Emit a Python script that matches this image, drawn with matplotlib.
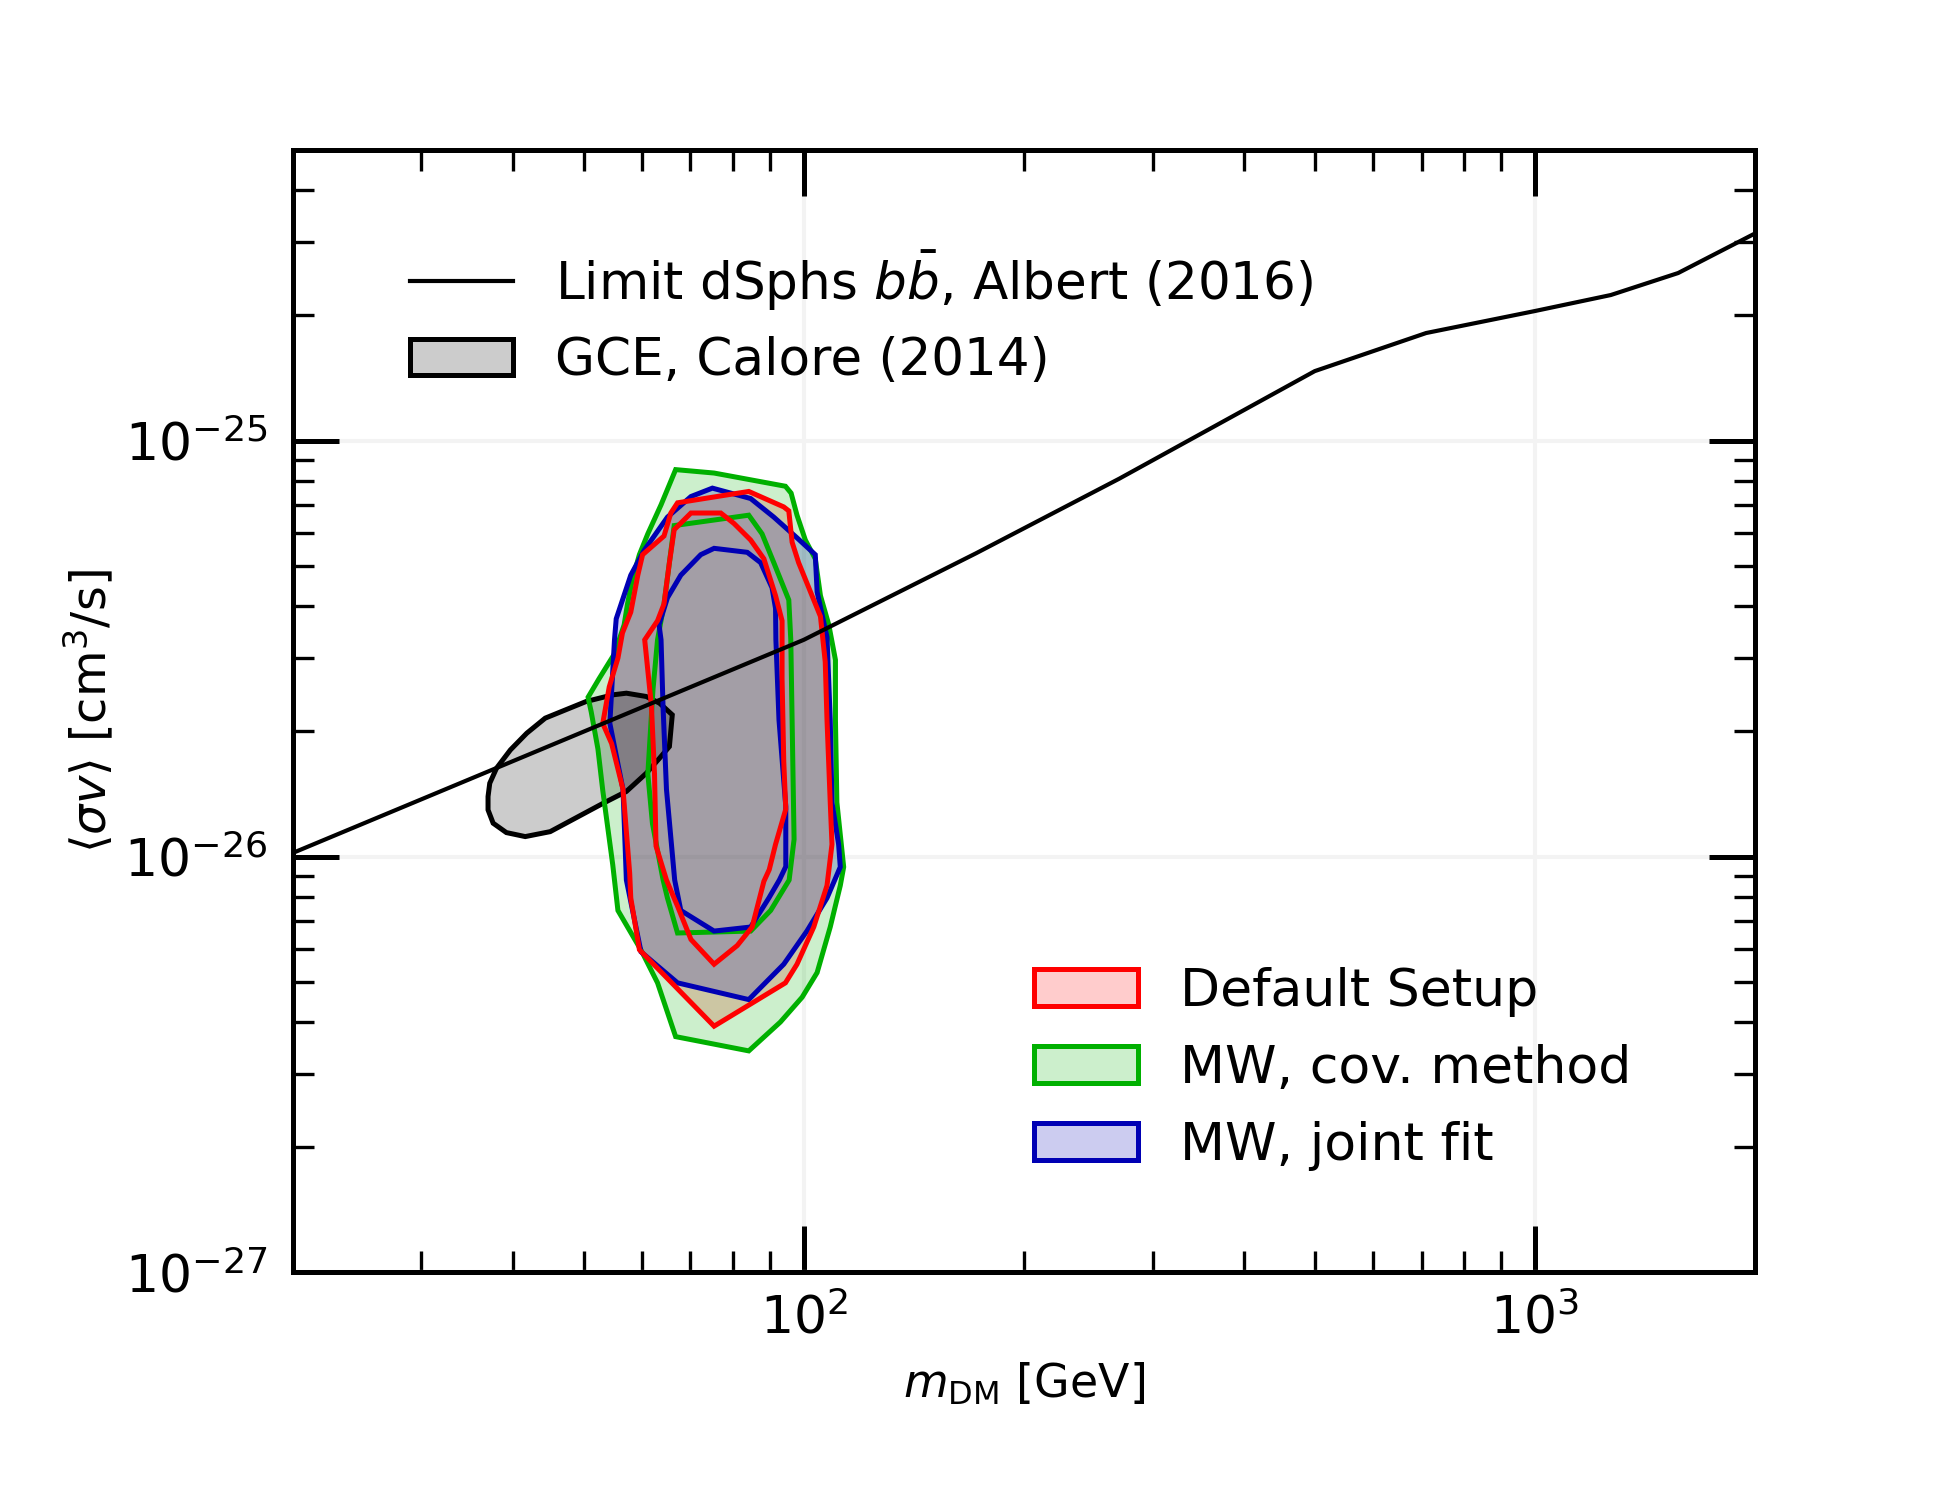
import numpy as np
import matplotlib
matplotlib.use("Agg")
import matplotlib.pyplot as plt
from matplotlib.patches import Polygon, Patch
from matplotlib.lines import Line2D
from matplotlib.ticker import NullFormatter

# ---------------- data ----------------
# dSphs limit (b bbar), Albert (2016)
limit_mass = [20, 100, 172, 270, 500, 710, 1000, 1270, 1570, 2000]
limit_sv = [1.02e-26, 3.32e-26, 5.36e-26, 8.1e-26, 1.47e-25, 1.815e-25,
            2.05e-25, 2.24e-25, 2.53e-25, 3.15e-25]

# GCE region, Calore (2014)   (sigma v in units of 1e-26 cm^3/s)
gce_mass = [37.0, 37.2, 38.0, 39.7, 41.8, 44.3, 50.4, 54.8, 57.2, 60.9, 63.5,
            66.1, 65.5, 63.5, 60.9, 57.2, 53.2, 45.0, 41.6, 39.2, 37.6, 37.0]
gce_sv = [1.394, 1.501, 1.631, 1.805, 1.980, 2.152, 2.360, 2.448, 2.471, 2.426,
          2.338, 2.192, 1.839, 1.724, 1.586, 1.434, 1.344, 1.148, 1.117, 1.142,
          1.203, 1.295]

# Default Setup (red)
default_outer_mass = [67.2, 84.1, 93.9, 95.4, 96.4, 98.4, 105.4, 107.0, 107.6,
                      108.7, 109.3, 107.6, 103.2, 97.9, 94.4, 75.4, 59.6, 58.0,
                      57.8, 56.6, 54.6, 53.1, 54.2, 55.7, 56.5, 58.0, 59.3,
                      60.2, 64.4, 65.8]
default_outer_sv = [7.09, 7.55, 6.93, 6.78, 5.70, 5.09, 3.78, 2.94, 2.13, 1.35,
                    1.07, 0.852, 0.677, 0.551, 0.497, 0.391, 0.597, 0.795,
                    0.912, 1.45, 1.87, 2.09, 2.56, 3.00, 3.45, 3.87, 4.75,
                    5.32, 5.90, 6.70]
default_inner_mass = [70.1, 77.0, 80.3, 84.6, 88.2, 91.5, 93.4, 93.4, 93.9,
                      94.5, 91.5, 89.7, 88.2, 85.0, 81.1, 75.4, 70.1, 67.2,
                      64.9, 62.8, 62.5, 61.9, 60.6, 63.1, 64.4, 65.5, 66.5]
default_inner_sv = [6.70, 6.70, 6.32, 5.77, 5.20, 4.24, 3.69, 2.68, 1.69, 1.30,
                    1.07, 0.93, 0.872, 0.677, 0.611, 0.551, 0.632, 0.760,
                    0.878, 1.06, 1.58, 2.30, 3.32, 3.69, 4.05, 5.09, 6.11]

# MW, cov. method (green)
cov_outer_mass = [66.8, 75.4, 94.4, 96.1, 97.9, 100.5, 103.7, 105.4, 108.2,
                  110.5, 110.5, 111.0, 113.4, 112.2, 108.7, 104.3, 99.5, 92.9,
                  84.1, 66.8, 63.1, 59.9, 55.7, 54.8, 53.1, 52.3, 51.2, 50.7,
                  52.5, 55.1, 56.8, 57.4, 58.3, 59.6, 61.2, 63.8]
cov_outer_sv = [8.52, 8.36, 7.77, 7.48, 6.62, 5.77, 5.20, 4.24, 3.61, 2.97,
                2.13, 1.35, 0.944, 0.852, 0.677, 0.526, 0.459, 0.400, 0.341,
                0.369, 0.497, 0.596, 0.742, 0.955, 1.443, 1.814, 2.230, 2.416,
                2.679, 3.073, 3.608, 4.046, 4.642, 5.324, 5.973, 7.012]
cov_inner_mass = [66.5, 84.1, 87.7, 91.0, 95.4, 96.0, 96.4, 97.0, 95.5, 90.1,
                  84.6, 67.2, 65.1, 64.2, 62.1, 61.2, 62.2, 63.1, 64.4, 65.5]
cov_inner_sv = [6.25, 6.62, 5.97, 5.09, 4.14, 3.32, 2.13, 1.10, 0.878, 0.742,
                0.662, 0.655, 0.795, 0.880, 1.20, 1.58, 2.52, 3.32, 4.05, 5.09]

# MW, joint fit (blue)
joint_outer_mass = [75.0, 84.6, 91.0, 97.9, 103.7, 104.3, 107.6, 108.7, 109.3,
                    111.6, 112.2, 107.6, 101.0, 93.9, 84.1, 67.2, 59.9, 57.2,
                    56.6, 54.3, 55.1, 55.4, 58.0, 60.5, 65.1, 70.1]
joint_outer_sv = [7.69, 7.26, 6.55, 5.84, 5.32, 4.33, 3.37, 2.13, 1.35, 1.07,
                  0.944, 0.795, 0.662, 0.551, 0.453, 0.497, 0.590, 0.878, 1.45,
                  2.09, 3.32, 3.73, 4.75, 5.45, 6.55, 7.34]
joint_inner_mass = [75.4, 83.7, 87.3, 90.5, 91.5, 91.6, 92.5, 94.5, 94.5, 92.6,
                    89.6, 84.6, 75.4, 67.9, 66.6, 64.9, 64.2, 63.8, 63.4, 65.1,
                    67.9, 72.3]
joint_inner_sv = [5.51, 5.39, 5.09, 4.43, 3.95, 3.32, 2.13, 1.32, 0.946, 0.878,
                  0.795, 0.677, 0.662, 0.742, 0.878, 1.45, 2.30, 3.32, 3.61,
                  4.19, 4.75, 5.32]

SV_UNIT = 1e-26

# ---------------- figure ----------------
plt.rcParams["font.family"] = "DejaVu Sans"
plt.rcParams["font.size"] = 12
plt.rcParams["mathtext.fontset"] = "dejavusans"

fig = plt.figure(figsize=(6.5, 5), dpi=300)
ax = fig.add_axes([0.1501, 0.1517, 0.7499, 0.7483])
ax.set_xscale("log")
ax.set_yscale("log")
ax.set_xlim(20, 2000)
ax.set_ylim(1e-27, 5e-25)

red = "#ff0000"
green = "#00b000"
blue = "#0000b4"
lw_c = 1.2

datasets = [
    (default_outer_mass, default_outer_sv, default_inner_mass, default_inner_sv, red),
    (cov_outer_mass, cov_outer_sv, cov_inner_mass, cov_inner_sv, green),
    (joint_outer_mass, joint_outer_sv, joint_inner_mass, joint_inner_sv, blue),
]

# fills of the outer regions (red, green, blue)
for om, osv, im, isv, col in datasets:
    pts = np.column_stack([om, np.array(osv) * SV_UNIT])
    ax.add_patch(Polygon(pts, closed=True, facecolor=col, alpha=0.2,
                         edgecolor="none", zorder=1))

# GCE region
gce_pts = np.column_stack([gce_mass, np.array(gce_sv) * SV_UNIT])
ax.add_patch(Polygon(gce_pts, closed=True, facecolor=(0, 0, 0, 0.2),
                     edgecolor="k", linewidth=1.2, zorder=2))

# contour outlines
for om, osv, im, isv, col in [datasets[1], datasets[2], datasets[0]]:
    for mm, ss in [(om, osv), (im, isv)]:
        pts = np.column_stack([mm, np.array(ss) * SV_UNIT])
        ax.add_patch(Polygon(pts, closed=True, facecolor="none",
                             edgecolor=col, linewidth=lw_c, zorder=3))

# limit line
ax.plot(limit_mass, limit_sv, color="k", lw=1.0, zorder=4)

# ---------------- axes styling ----------------
for sp in ax.spines.values():
    sp.set_linewidth(1.2)
ax.xaxis.set_minor_formatter(NullFormatter())
ax.yaxis.set_minor_formatter(NullFormatter())
ax.tick_params(which="both", direction="in", top=True, right=True)
ax.tick_params(which="major", length=11, width=1.2, labelsize=12.5)
ax.tick_params(which="minor", length=5, width=0.8)
ax.tick_params(axis="y", which="major", pad=6)
ax.tick_params(axis="x", which="major", pad=5)
ax.grid(True, which="major", color="#f3f3f3", linewidth=1.0, zorder=0)
ax.set_axisbelow(True)

ax.set_xlabel(r"$m_{\rm DM}$ [GeV]", fontsize=11, labelpad=4)
ax.set_ylabel(r"$\langle\sigma v\rangle$ [cm$^3$/s]", fontsize=11.5, labelpad=2)

# ---------------- legends ----------------
h1 = [Line2D([], [], color="k", lw=1.0),
      Patch(facecolor=(0, 0, 0, 0.2), edgecolor="k", linewidth=1.2)]
l1 = ["Limit dSphs $b\\bar{b}$, Albert (2016)", "GCE, Calore (2014)"]
leg1 = ax.legend(h1, l1, loc="upper left", bbox_to_anchor=(0.066, 0.931),
                 borderaxespad=0, frameon=False, fontsize=12.4, labelspacing=0.45,
                 handlelength=2.0, handletextpad=0.8)
ax.add_artist(leg1)

h2 = [Patch(facecolor=(1, 0, 0, 0.2), edgecolor=red, linewidth=1.2),
      Patch(facecolor=(0, 0.69, 0, 0.2), edgecolor=green, linewidth=1.2),
      Patch(facecolor=(0, 0, 0.706, 0.2), edgecolor=blue, linewidth=1.2)]
l2 = ["Default Setup", "MW, cov. method", "MW, joint fit"]
ax.legend(h2, l2, loc="upper left", bbox_to_anchor=(0.4926, 0.291),
          borderaxespad=0, frameon=False, fontsize=12.5, labelspacing=0.52,
          handlelength=2.0, handletextpad=0.8)

fig.savefig("out.png", dpi=300)
